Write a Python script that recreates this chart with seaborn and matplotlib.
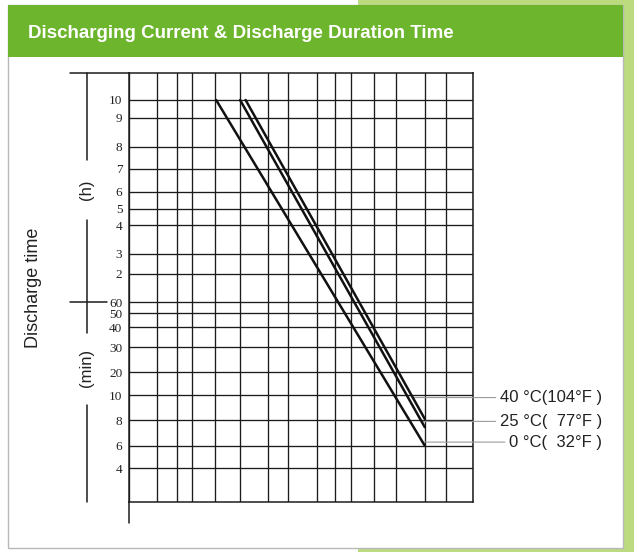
import numpy as np
import pandas as pd
import matplotlib
matplotlib.use("Agg")
import matplotlib.pyplot as plt
from matplotlib.patches import Rectangle
import seaborn as sns

sns.set_style("white")
plt.rcParams['font.family'] = ['Liberation Sans', 'DejaVu Sans']

# y axis: discharge time (minutes) and the labels printed on the chart
TIME_MIN = [4, 6, 8, 10, 20, 30, 40, 50, 60, 120, 180, 240, 300, 360, 420, 480, 540, 600]
TIME_LABELS = ["4", "6", "8", "10", "20", "30", "40", "50", "60",
               "2", "3", "4", "5", "6", "7", "8", "9", "10"]
# the printed chart spaces its rows irregularly: row height of each tick above the grid bottom
ROW_HEIGHT = [33.7, 56.3, 81.7, 106.7, 129.7, 155, 174.7, 188.7, 199.7,
              228.3, 248.3, 277, 293.3, 310.3, 333.3, 355.3, 384.3, 402]
GRID_TOP = 429

# x axis: discharging current columns (unlabelled in the source)
CURRENT_GRID = [0, 28, 48, 63, 86, 111, 139, 159, 188, 206, 222, 245, 267, 296, 317, 344]

# the three temperature curves
TEMPS = ["0 °C(  32°F )", "25 °C(  77°F )", "40 °C(104°F )"]
START_CURRENT = [87, 111, 116.5]
END_CURRENT = [296, 296, 296]
START_MIN = [600, 600, 600]
END_MIN = [6.0, 7.4, 8.1]
LABEL_MIN = [6.25, 7.9, 9.8]

df = pd.DataFrame({
    "temp": TEMPS * 2,
    "current": START_CURRENT + END_CURRENT,
    "minutes": START_MIN + END_MIN,
})

LOG_MIN = np.log(TIME_MIN)
ROWS = np.array(ROW_HEIGHT, dtype=float)


def piecewise(v, xs, ys):
    v = np.asarray(v, dtype=float)
    out = np.interp(v, xs, ys)
    out = np.where(v < xs[0], ys[0] + (v - xs[0]) * (ys[1] - ys[0]) / (xs[1] - xs[0]), out)
    out = np.where(v > xs[-1], ys[-1] + (v - xs[-1]) * (ys[-1] - ys[-2]) / (xs[-1] - xs[-2]), out)
    return out


def fwd(m):
    return piecewise(np.log(np.maximum(np.asarray(m, dtype=float), 1e-9)), LOG_MIN, ROWS)


def inv(h):
    return np.exp(piecewise(h, ROWS, LOG_MIN))


fig = plt.figure(figsize=(6.34, 5.52), dpi=100)
fig.patch.set_facecolor("white")

# page decoration: light green strip, white panel, green header
fig.patches.append(Rectangle((358 / 634, 0), 1, 1, transform=fig.transFigure,
                             facecolor="#bcdb7e", edgecolor="none", zorder=-3))
fig.patches.append(Rectangle((8 / 634, 4 / 552), 615 / 634, 543 / 552, transform=fig.transFigure,
                             facecolor="white", edgecolor="#b8b8b8", lw=1, zorder=-2))
fig.patches.append(Rectangle((8 / 634, 495 / 552), 615 / 634, 52 / 552, transform=fig.transFigure,
                             facecolor="#6cb52d", edgecolor="none", zorder=-1))
fig.text(28 / 634, 1 - 38.5 / 552, "Discharging Current & Discharge Duration Time",
         color="white", fontsize=13.5, fontweight="bold", va="baseline", ha="left", zorder=3)

ax = fig.add_axes([129.3 / 634, 50 / 552, 343.4 / 634, 429 / 552])
ax.set_zorder(5)
ax.set_facecolor("none")
ax.set_yscale("function", functions=(fwd, inv))

sns.lineplot(data=df, x="current", y="minutes", hue="temp", palette=["#111111"] * 3,
             estimator=None, sort=False, legend=False, lw=1.8, ax=ax, zorder=4)

ax.set_xlim(0, 344)
ax.set_ylim(float(inv(0)), float(inv(GRID_TOP)))
ax.set_xticks(CURRENT_GRID)
ax.set_xticklabels([])
ax.set_yticks(TIME_MIN)
ax.set_yticklabels(TIME_LABELS, family="Liberation Serif", fontsize=9.5, color="#222222")
ax.yaxis.set_minor_locator(matplotlib.ticker.NullLocator())
ax.tick_params(length=0, pad=5)
ax.grid(True, color="#1c1c1c", lw=0.95)
for s in ax.spines.values():
    s.set_color("#1c1c1c")
    s.set_linewidth(1.1)
ax.set_xlabel("")
ax.set_ylabel("")

ytr = ax.get_yaxis_transform()
# left axis extension below the grid, top line and 60-min tick extending left
ax.plot([0, 0], [0, -21 / 429], transform=ax.transAxes, color="#1c1c1c", lw=1.1, clip_on=False)
ax.plot([-0.172, 0], [1, 1], transform=ax.transAxes, color="#1c1c1c", lw=1.1, clip_on=False)
ax.plot([-0.172, -0.065], [60, 60], transform=ytr, color="#1c1c1c", lw=1.1, clip_on=False)

# unit brackets
bx = -0.124
for y0, y1 in [(1.0, 0.797), (0.658, 0.394), (0.226, 0.0)]:
    ax.plot([bx, bx], [y0, y1], transform=ax.transAxes, color="#1c1c1c", lw=1.1, clip_on=False)
ax.text(bx, 0.727, "(h)", transform=ax.transAxes, rotation=90, ha="center", va="center",
        fontsize=12, color="#222222")
ax.text(bx, 0.312, "(min)", transform=ax.transAxes, rotation=90, ha="center", va="center",
        fontsize=12, color="#222222")
fig.text(34 / 634, 1 - 288 / 552, "Discharge time", rotation=90, ha="center", va="center",
         fontsize=13, color="#222222")

# temperature labels with leader lines
for t, x0, x1, m0, m1, ml in zip(TEMPS, START_CURRENT, END_CURRENT, START_MIN, END_MIN, LABEL_MIN):
    f = (fwd(m0) - fwd(ml)) / (fwd(m0) - fwd(m1))
    xs = x0 + float(f) * (x1 - x0)
    ax.annotate(t, xy=(xs, ml), xytext=(474, ml), ha="right", va="center",
                fontsize=12, color="#222222", annotation_clip=False,
                arrowprops=dict(arrowstyle="-", color="#9a9a9a", lw=0.8,
                                shrinkA=1, shrinkB=0, relpos=(0, 0.5)))

fig.savefig("out.png", dpi=100)
